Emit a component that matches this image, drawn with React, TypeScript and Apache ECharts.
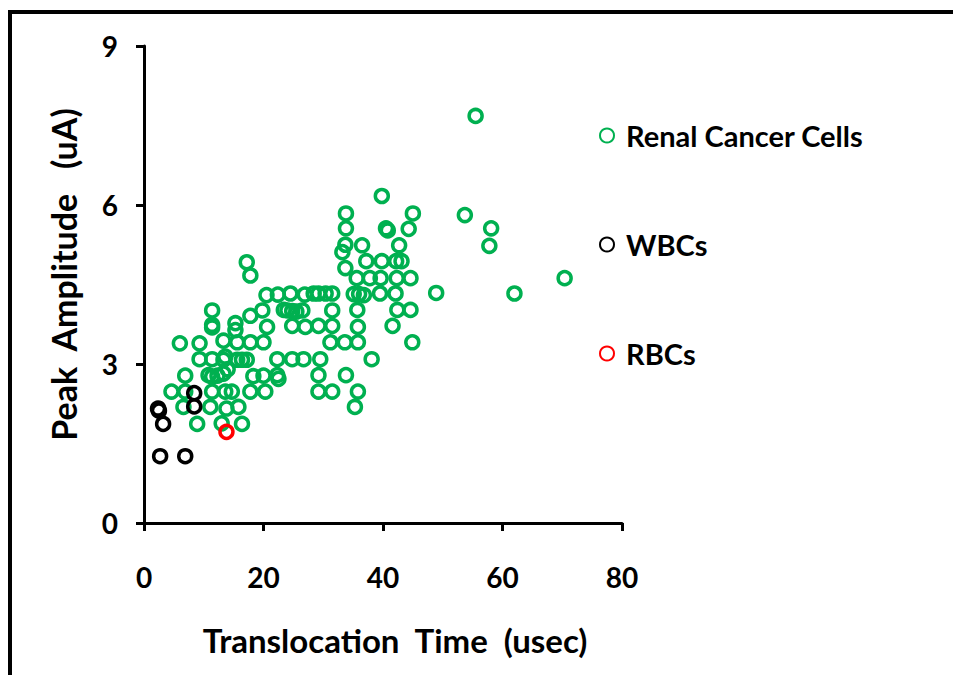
import React, { useEffect, useRef } from "react";
import * as echarts from "echarts";

const xTicks = [0, 20, 40, 60, 80];
const yTicks = [0, 3, 6, 9];

const renalX = [
  55.5, 39.8, 33.8, 45.0, 53.7, 33.8, 40.5, 40.8, 44.3, 58.1,
  33.7, 33.2, 36.5, 42.7, 57.8, 17.2, 37.2, 39.8, 42.2, 43.1,
  33.7, 17.8, 35.6, 37.8, 39.6, 42.3, 44.6, 70.4, 20.5, 22.4,
  24.5, 26.9, 28.4, 29.2, 30.4, 31.5, 35.1, 36.0, 36.8, 39.5,
  42.1, 48.9, 62.0, 11.4, 19.8, 23.4, 24.0, 24.8, 25.5, 26.5,
  31.5, 35.7, 42.4, 44.6, 17.8, 11.4, 11.4, 15.3, 15.3, 20.6,
  24.8, 27.0, 29.2, 31.5, 35.8, 41.6, 6.0, 9.3, 13.3, 15.6,
  17.8, 20.0, 31.2, 33.6, 35.8, 44.9, 9.3, 11.4, 13.3, 13.6,
  15.6, 16.4, 17.2, 22.3, 24.8, 26.7, 29.5, 38.1, 6.9, 10.8,
  11.4, 12.3, 13.3, 14.0, 18.3, 20.0, 22.3, 22.5, 29.2, 33.8,
  4.6, 6.9, 11.4, 13.6, 14.7, 17.8, 20.3, 29.2, 31.5, 35.8,
  6.6, 11.1, 13.8, 15.8, 35.3, 8.9, 13.0, 16.4,
];
const renalY = [
  7.68, 6.17, 5.84, 5.84, 5.81, 5.56, 5.56, 5.52, 5.55, 5.56,
  5.25, 5.11, 5.24, 5.24, 5.23, 4.92, 4.94, 4.94, 4.94, 4.94,
  4.81, 4.67, 4.62, 4.62, 4.62, 4.62, 4.62, 4.62, 4.30, 4.31,
  4.33, 4.31, 4.33, 4.33, 4.33, 4.33, 4.32, 4.32, 4.30, 4.33,
  4.33, 4.34, 4.33, 4.01, 4.01, 4.02, 4.01, 4.00, 3.99, 4.01,
  4.01, 4.02, 4.02, 4.02, 3.91, 3.74, 3.69, 3.77, 3.64, 3.70,
  3.72, 3.70, 3.72, 3.72, 3.70, 3.72, 3.39, 3.39, 3.44, 3.41,
  3.41, 3.41, 3.41, 3.41, 3.41, 3.41, 3.09, 3.09, 3.08, 3.14,
  3.08, 3.08, 3.08, 3.09, 3.09, 3.09, 3.09, 3.09, 2.78, 2.79,
  2.76, 2.78, 2.82, 2.90, 2.77, 2.78, 2.79, 2.72, 2.79, 2.79,
  2.48, 2.48, 2.48, 2.48, 2.48, 2.48, 2.48, 2.48, 2.48, 2.48,
  2.19, 2.19, 2.16, 2.19, 2.19, 1.87, 1.88, 1.87,
];

const wbcX = [2.35, 2.5, 3.2, 8.4, 8.4, 2.7, 6.9];
const wbcY = [2.16, 2.12, 1.87, 2.45, 2.2, 1.26, 1.26];

const rbcX = [13.8];
const rbcY = [1.72];

const GREEN = "#00B050";
const FONT = "Lato, 'Liberation Sans', sans-serif";

const pair = (xs: number[], ys: number[]) => xs.map((x, i) => [x, ys[i]]);

const seriesStyle = (color: string) => ({
  color: "rgba(0,0,0,0)",
  borderColor: color,
  borderWidth: 3.5,
  opacity: 1,
});

export default function App() {
  const ref = useRef<HTMLDivElement>(null);
  useEffect(() => {
    if (!ref.current) return;
    const chart = echarts.init(ref.current, null, { renderer: "svg" });
    const legendBase = {
      left: 599,
      padding: 0,
      orient: "vertical",
      itemWidth: 14,
      itemHeight: 14,
      itemGap: 10,
      textStyle: {
        fontFamily: FONT,
        fontSize: 29,
        fontWeight: "bold",
        color: "#000",
        padding: [0, 0, 0, 7],
      },
    };
    chart.setOption({
      animation: false,
      backgroundColor: "#fff",
      grid: { left: 144, right: 331, top: 46, bottom: 152, containLabel: false },
      xAxis: {
        type: "value",
        min: 0,
        max: 80,
        interval: 20,
        name: "Translocation  Time  (usec)",
        nameLocation: "middle",
        nameGap: 100,
        nameTextStyle: {
          fontFamily: FONT,
          fontSize: 33,
          fontWeight: "bold",
          color: "#000",
          padding: [0, 0, 0, 24],
        },
        axisLine: { show: true, onZero: false, lineStyle: { color: "#000", width: 3 } },
        axisTick: { show: true, inside: false, length: 8, lineStyle: { color: "#000", width: 3 } },
        axisLabel: {
          margin: 40,
          fontFamily: FONT,
          fontSize: 28,
          fontWeight: "bold",
          color: "#000",
          formatter: (v: number) => (xTicks.includes(v) ? String(v) : ""),
        },
        splitLine: { show: false },
      },
      yAxis: {
        type: "value",
        min: 0,
        max: 9,
        interval: 3,
        name: "Peak  Amplitude   (uA)",
        nameLocation: "middle",
        nameGap: 64,
        nameRotate: 90,
        nameTextStyle: {
          fontFamily: FONT,
          fontSize: 34,
          fontWeight: "bold",
          color: "#000",
          padding: [0, 0, 0, 20],
        },
        axisLine: { show: true, onZero: false, lineStyle: { color: "#000", width: 3 } },
        axisTick: { show: true, inside: false, length: 8, lineStyle: { color: "#000", width: 3 } },
        axisLabel: {
          margin: 26,
          fontFamily: FONT,
          fontSize: 28,
          fontWeight: "bold",
          color: "#000",
          formatter: (v: number) => (yTicks.includes(v) ? String(v) : ""),
        },
        splitLine: { show: false },
      },
      legend: [
        { ...legendBase, top: 121, data: ["Renal Cancer Cells"] },
        { ...legendBase, top: 230, data: ["WBCs"] },
        { ...legendBase, top: 339, data: ["RBCs"] },
      ],
      graphic: [
        {
          type: "rect",
          shape: { x: 10, y: 12, width: 1000, height: 700 },
          style: { fill: "none", stroke: "#000", lineWidth: 4 },
          silent: true,
        },
      ],
      series: [
        {
          name: "Renal Cancer Cells",
          type: "scatter",
          symbol: "circle",
          symbolSize: 13,
          itemStyle: seriesStyle(GREEN),
          data: pair(renalX, renalY),
        },
        {
          name: "WBCs",
          type: "scatter",
          symbol: "circle",
          symbolSize: 13,
          itemStyle: seriesStyle("#000"),
          data: pair(wbcX, wbcY),
        },
        {
          name: "RBCs",
          type: "scatter",
          symbol: "circle",
          symbolSize: 13,
          itemStyle: seriesStyle("#FF0000"),
          data: pair(rbcX, rbcY),
        },
      ],
    });
    return () => chart.dispose();
  }, []);
  return (
    <div
      ref={ref}
      style={{ position: "absolute", left: 0, top: 0, width: 953, height: 675 }}
    />
  );
}
